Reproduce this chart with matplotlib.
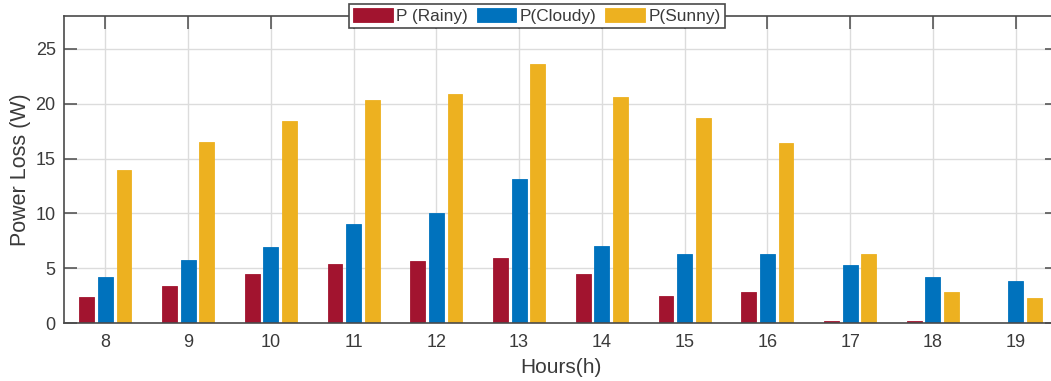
import matplotlib.pyplot as plt
import numpy as np

plt.rcParams["font.family"] = ["Liberation Sans", "DejaVu Sans"]

hours = [8, 9, 10, 11, 12, 13, 14, 15, 16, 17, 18, 19]
p_rainy = [2.4, 3.4, 4.5, 5.4, 5.7, 5.9, 4.5, 2.5, 2.8, 0.15, 0.2, 0.0]
p_cloudy = [4.2, 5.75, 6.9, 9.0, 10.0, 13.1, 7.0, 6.3, 6.3, 5.3, 4.2, 3.8]
p_sunny = [14.0, 16.5, 18.4, 20.3, 20.9, 23.6, 20.6, 18.7, 16.4, 6.3, 2.8, 2.3]
series_labels = ["P (Rainy)", "P(Cloudy)", "P(Sunny)"]

colors = ["#A2142F", "#0072BD", "#EDB120"]
axis_color = "#4a4a4a"
text_color = "#3a3a3a"

fig = plt.figure(figsize=(10.51, 3.81), dpi=100)
ax = fig.add_axes([64 / 1051, 1 - 323 / 381, 993 / 1051, 307 / 381])

x = np.array(hours, dtype=float)
offsets = [-0.225, 0.0, 0.225]
for values, off, color, label in zip([p_rainy, p_cloudy, p_sunny], offsets, colors, series_labels):
    ax.bar(x + off, values, width=0.18, color=color, edgecolor=color,
           linewidth=0.6, label=label, zorder=2)

ax.set_xlim(7.5, 19.5)
ax.set_ylim(0, 28)
ax.set_xticks(hours)
ax.set_yticks([0, 5, 10, 15, 20, 25])
ax.grid(True, color="#dcdcdc", linewidth=1.0, zorder=0)
ax.set_axisbelow(True)

for spine in ax.spines.values():
    spine.set_color(axis_color)
    spine.set_linewidth(1.2)
ax.tick_params(direction="in", length=9, width=1.1, color=axis_color,
               labelcolor=text_color, labelsize=13, top=True, right=True)
ax.tick_params(axis="x", pad=8)
ax.tick_params(axis="y", pad=6)

ax.set_xlabel("Hours(h)", fontsize=15, color=text_color, labelpad=5)
ax.set_ylabel("Power Loss (W)", fontsize=15.5, color=text_color, labelpad=3)

leg = ax.legend(loc="center", bbox_to_anchor=(537 / 1051, 1 - 16 / 381),
                bbox_transform=fig.transFigure, ncol=3, fontsize=12.4,
                handlelength=2.3, handleheight=0.85, handletextpad=0.2,
                columnspacing=0.5, borderpad=0.25, borderaxespad=0,
                fancybox=False, framealpha=1, edgecolor=axis_color)
leg.get_frame().set_linewidth(1.2)
for t in leg.get_texts():
    t.set_color(text_color)

fig.savefig("out.png", dpi=100)
